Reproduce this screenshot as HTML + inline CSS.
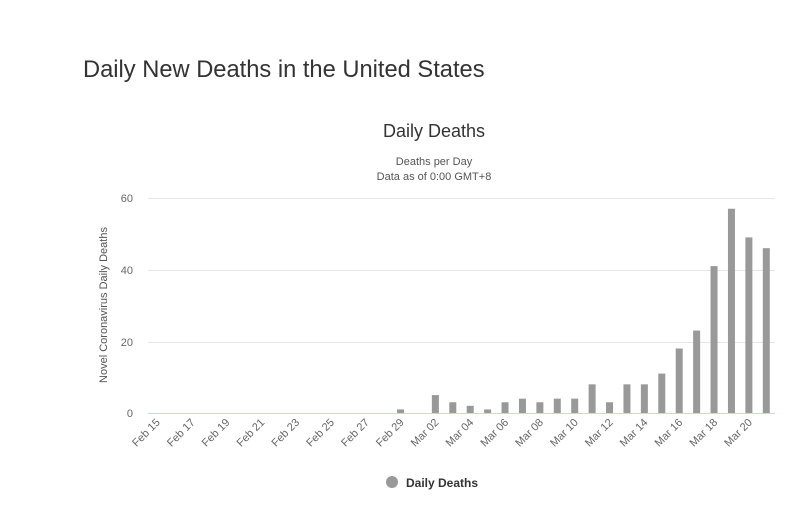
<!DOCTYPE html>
<html><head><meta charset="utf-8"><style>
body{margin:0;background:#fff;width:811px;height:527px;overflow:hidden;font-family:"Liberation Sans",sans-serif}
h1{position:absolute;left:83px;top:57px;margin:0;font-size:23.7px;font-weight:normal;color:#333}
</style></head><body>
<h1>Daily New Deaths in the United States</h1>
<svg width="811" height="527" style="position:absolute;left:0;top:0" font-family="Liberation Sans, sans-serif">
<text x="434" y="137" text-anchor="middle" font-size="18" fill="#333">Daily Deaths</text>
<text x="434" y="165" text-anchor="middle" font-size="11" fill="#555">Deaths per Day</text>
<text x="434" y="180" text-anchor="middle" font-size="11" fill="#555">Data as of 0:00 GMT+8</text>
<g stroke="#e6e6e6" stroke-width="1">
<line x1="148" x2="775" y1="198.5" y2="198.5"/><line x1="148" x2="775" y1="270.5" y2="270.5"/><line x1="148" x2="775" y1="342.5" y2="342.5"/>
</g>
<line x1="148" x2="775" y1="413.5" y2="413.5" stroke="#ccd6eb"/>
<g font-size="11" fill="#666" text-anchor="end">
<text x="133" y="202">60</text><text x="133" y="274">40</text><text x="133" y="346">20</text><text x="133" y="417">0</text>
</g>
<text transform="translate(107,305) rotate(-90)" text-anchor="middle" font-size="11" fill="#555">Novel Coronavirus Daily Deaths</text>
<g id="bars" fill="#999"></g>
<g id="labs" font-size="11" fill="#666"></g>
<circle cx="392" cy="482" r="6" fill="#999"/>
<text x="406" y="487" font-size="12" font-weight="bold" fill="#333">Daily Deaths</text>
</svg>
<script>
var v=[0,0,0,0,0,0,0,0,0,0,0,0,0,0,1,0,5,3,2,1,3,4,3,4,4,8,3,8,8,11,18,23,41,57,49,46];
var b=document.getElementById('bars'),l=document.getElementById('labs'),ns='http://www.w3.org/2000/svg';
var w=627/36;
for(var i=0;i<36;i++){var cx=148+w*(i+0.5);
if(v[i]){var r=document.createElementNS(ns,'rect');var h=v[i]*215/60;
r.setAttribute('x',cx-3.5);r.setAttribute('width',7);r.setAttribute('y',413-h);r.setAttribute('height',h);b.appendChild(r);}
if(i%2==0){var d=i<15?'Feb '+(15+i):'Mar '+('0'+(i-14)).slice(-2);
var t=document.createElementNS(ns,'text');t.setAttribute('text-anchor','end');
t.setAttribute('transform','translate('+(cx+4)+',423) rotate(-45)');t.textContent=d;l.appendChild(t);}}
</script>
</body></html>
